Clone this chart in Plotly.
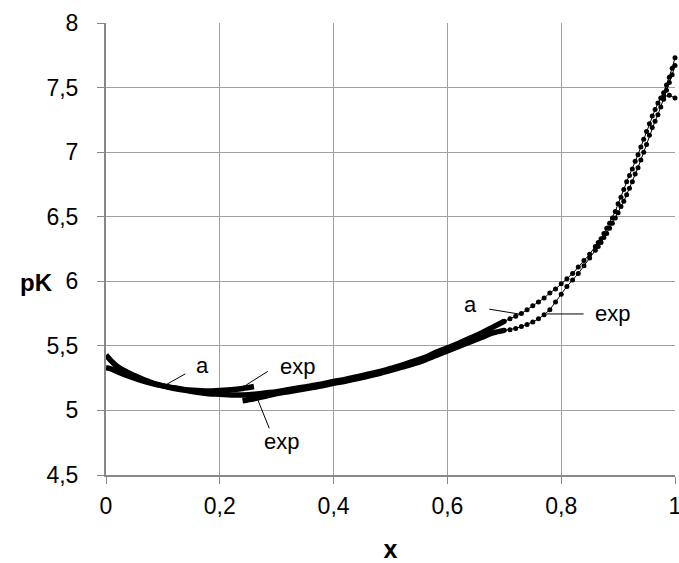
import plotly.graph_objects as go

# ---- data -------------------------------------------------------------
# computed curve "a": densely sampled low-x part and dotted high-x part
a_x_low = [0.00, 0.01, 0.02, 0.04, 0.06, 0.08, 0.10, 0.12, 0.14, 0.16, 0.18, 0.20,
           0.22, 0.24, 0.26, 0.28, 0.30, 0.32, 0.34, 0.36, 0.38, 0.40, 0.42, 0.44,
           0.46, 0.48, 0.50, 0.52, 0.54, 0.56, 0.58, 0.60, 0.62, 0.64, 0.66, 0.68, 0.70]
a_pk_low = [5.43, 5.38, 5.34, 5.29, 5.25, 5.215, 5.19, 5.17, 5.155, 5.14, 5.13, 5.125,
            5.12, 5.12, 5.125, 5.135, 5.145, 5.16, 5.175, 5.19, 5.205, 5.225, 5.24, 5.26,
            5.28, 5.30, 5.325, 5.35, 5.38, 5.41, 5.45, 5.485, 5.52, 5.56, 5.60, 5.645, 5.69]

a_x_high = [0.70, 0.71, 0.72, 0.73, 0.74, 0.75, 0.76, 0.77, 0.78, 0.79, 0.80, 0.81, 0.82,
            0.83, 0.84, 0.85, 0.86, 0.865, 0.87, 0.875, 0.88, 0.885, 0.89, 0.895, 0.90,
            0.905, 0.91, 0.915, 0.92, 0.925, 0.93, 0.935, 0.94, 0.945, 0.95, 0.955, 0.96,
            0.965, 0.97, 0.975, 0.98, 0.985, 0.99, 0.995, 1.00]
a_pk_high = [5.69, 5.71, 5.73, 5.75, 5.78, 5.81, 5.84, 5.87, 5.91, 5.94, 5.98, 6.02, 6.06,
             6.11, 6.16, 6.21, 6.27, 6.30, 6.33, 6.37, 6.41, 6.45, 6.49, 6.54, 6.60,
             6.65, 6.71, 6.77, 6.82, 6.87, 6.93, 6.98, 7.04, 7.10, 7.16, 7.22, 7.28,
             7.33, 7.38, 7.42, 7.46, 7.52, 7.58, 7.65, 7.73]

# experimental set 1 (low x)
e1_x = [0.00, 0.01, 0.02, 0.04, 0.06, 0.08, 0.10, 0.12, 0.14, 0.16, 0.18, 0.20, 0.22, 0.24, 0.26]
e1_pk = [5.33, 5.32, 5.30, 5.265, 5.235, 5.21, 5.19, 5.175, 5.16, 5.155, 5.15, 5.155, 5.16, 5.17, 5.185]

# experimental set 2 (x from 0.24 to 1)
e2_x_low = [0.24, 0.26, 0.28, 0.30, 0.32, 0.34, 0.36, 0.38, 0.40, 0.42, 0.44, 0.46, 0.48,
            0.50, 0.52, 0.54, 0.56, 0.58, 0.60, 0.62, 0.64, 0.66, 0.68, 0.70]
e2_pk_low = [5.075, 5.09, 5.11, 5.13, 5.145, 5.16, 5.175, 5.19, 5.21, 5.225, 5.245, 5.265, 5.285,
             5.31, 5.335, 5.36, 5.39, 5.425, 5.46, 5.495, 5.53, 5.565, 5.60, 5.62]

e2_x_high = [0.70, 0.71, 0.72, 0.73, 0.74, 0.75, 0.76, 0.77, 0.78, 0.79, 0.80, 0.81, 0.82,
             0.83, 0.84, 0.85, 0.86, 0.865, 0.87, 0.875, 0.88, 0.885, 0.89, 0.895, 0.90,
             0.905, 0.91, 0.915, 0.92, 0.925, 0.93, 0.935, 0.94, 0.945, 0.95, 0.955, 0.96,
             0.965, 0.97, 0.975, 0.98, 0.985, 0.99, 0.995, 1.00]
e2_pk_high = [5.62, 5.625, 5.635, 5.65, 5.665, 5.685, 5.71, 5.74, 5.78, 5.84, 5.90, 5.96, 6.01,
              6.06, 6.12, 6.18, 6.24, 6.27, 6.30, 6.34, 6.37, 6.41, 6.45, 6.49, 6.53,
              6.58, 6.62, 6.67, 6.72, 6.77, 6.83, 6.88, 6.94, 7.00, 7.06, 7.13, 7.19,
              7.24, 7.29, 7.35, 7.41, 7.48, 7.54, 7.60, 7.67]

# short end branch near x = 1
e3_x = [0.98, 0.99, 1.00]
e3_pk = [7.43, 7.44, 7.42]

FONT = "Liberation Sans, Arial, sans-serif"
BLACK = "#000000"

fig = go.Figure()

def thick(x, y, w=5.5):
    fig.add_trace(go.Scatter(x=x, y=y, mode="lines", cliponaxis=False,
                             line=dict(color=BLACK, width=w, shape="spline")))

def dotted(x, y):
    fig.add_trace(go.Scatter(x=x, y=y, mode="lines+markers", cliponaxis=False,
                             line=dict(color=BLACK, width=1),
                             marker=dict(color=BLACK, size=5)))

thick(a_x_low, a_pk_low)
thick(e1_x, e1_pk)
thick(e2_x_low, e2_pk_low)
dotted(a_x_high, a_pk_high)
dotted(e2_x_high, e2_pk_high)
dotted(e3_x, e3_pk)

# labels with pointer lines: (text, text_x, text_y, tail_x, tail_y, head_x, head_y)
labels = [
    ("a",   0.169, 5.35, 0.142, 5.29, 0.100, 5.185),
    ("exp", 0.337, 5.34, 0.287, 5.31, 0.244, 5.19),
    ("exp", 0.309, 4.76, 0.288, 4.85, 0.267, 5.08),
    ("a",   0.640, 5.82, 0.671, 5.786, 0.728, 5.745),
    ("exp", 0.891, 5.75, 0.842, 5.747, 0.775, 5.747),
]
for t, tx, ty, x0, y0, x1, y1 in labels:
    fig.add_annotation(x=tx, y=ty, text=t, showarrow=False,
                       font=dict(family=FONT, size=22, color=BLACK))
    fig.add_annotation(x=x1, y=y1, ax=x0, ay=y0, xref="x", yref="y",
                       axref="x", ayref="y", text="", showarrow=True,
                       arrowhead=0, arrowwidth=1, arrowcolor=BLACK, standoff=0,
                       startstandoff=0)

axis_common = dict(
    showgrid=True, gridcolor="#a0a0a0", gridwidth=1,
    showline=True, linecolor="#888888", linewidth=2,
    ticks="outside", ticklen=7, tickcolor="#888888", tickwidth=1,
    tickfont=dict(family=FONT, size=23, color=BLACK),
    zeroline=False, mirror=False, automargin=False,
)

fig.update_layout(
    width=679, height=563,
    margin=dict(l=106, r=4, t=23, b=88),
    paper_bgcolor="white", plot_bgcolor="white",
    separators=", ",
    showlegend=False,
    xaxis=dict(range=[0, 1], dtick=0.2, tick0=0,
               title=dict(text="<b>x</b>", font=dict(family=FONT, size=25, color=BLACK), standoff=26),
               ticklabelstandoff=2, ticklabeloverflow="allow", **axis_common),
    yaxis=dict(range=[4.5, 8], dtick=0.5, tick0=4.5,
               ticklabelstandoff=14, **axis_common),
)

# horizontal y-axis title
fig.add_annotation(xref="paper", yref="paper", xanchor="center", yanchor="middle",
                   x=(36 - 106) / 569, y=(475 - 282) / 452,
                   text="<b>pK</b>", showarrow=False,
                   font=dict(family=FONT, size=24, color=BLACK))

fig.write_html("out.html")
